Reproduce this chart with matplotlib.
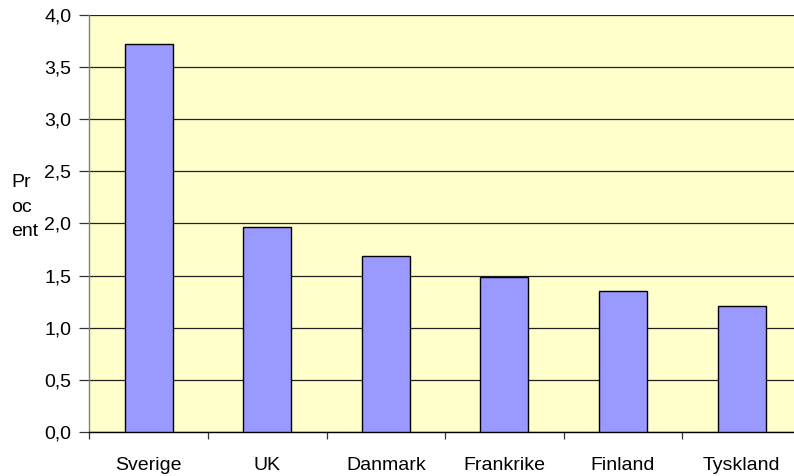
import matplotlib
matplotlib.use("Agg")
import matplotlib.pyplot as plt
import numpy as np

categories = ["Sverige", "UK", "Danmark", "Frankrike", "Finland", "Tyskland"]
values = [3.72, 1.97, 1.69, 1.49, 1.35, 1.21]
yticks = [0.0, 0.5, 1.0, 1.5, 2.0, 2.5, 3.0, 3.5, 4.0]
ytick_labels = ["0,0", "0,5", "1,0", "1,5", "2,0", "2,5", "3,0", "3,5", "4,0"]

plt.rcParams['font.family'] = ['Liberation Sans', 'DejaVu Sans']

W, H = 794, 476
fig = plt.figure(figsize=(W / 100, H / 100), dpi=100)
left, right, top, bottom = 89.3, 800.9, 14.7, 432.3
ax = fig.add_axes([left / W, 1 - bottom / H, (right - left) / W, (bottom - top) / H])
ax.set_facecolor("#FFFFCC")

x = np.arange(len(categories))
ax.bar(x, values, width=0.405, color="#9999FF", edgecolor="black", linewidth=1.0, zorder=3)

ax.set_ylim(0, 4.0)
ax.set_xlim(-0.5, len(categories) - 0.5)
ax.set_yticks(yticks)
ax.set_yticklabels(ytick_labels, fontsize=14)
ax.yaxis.grid(True, color="#222222", linewidth=0.9, zorder=1)
ax.set_axisbelow(True)

ax.set_xticks(x)
ax.set_xticklabels(categories, fontsize=14)
ax.set_xticks(np.arange(-0.5, len(categories)), minor=True)
ax.tick_params(axis="x", which="major", length=0, pad=18)
ax.tick_params(axis="x", which="minor", length=5, width=0.9, color="#333333")
ax.tick_params(axis="y", length=7, width=0.9, color="#333333", pad=6)

for s in ["top", "right"]:
    ax.spines[s].set_visible(False)
ax.spines["left"].set_color("#808080")
ax.spines["bottom"].set_color("black")
ax.spines["left"].set_linewidth(1.0)
ax.spines["bottom"].set_linewidth(1.0)

fig.text(11 / W, 1 - 207 / H, "Pr\noc\nent", ha="left", va="center", fontsize=14, linespacing=1.6)

fig.savefig("out.png", dpi=100)
